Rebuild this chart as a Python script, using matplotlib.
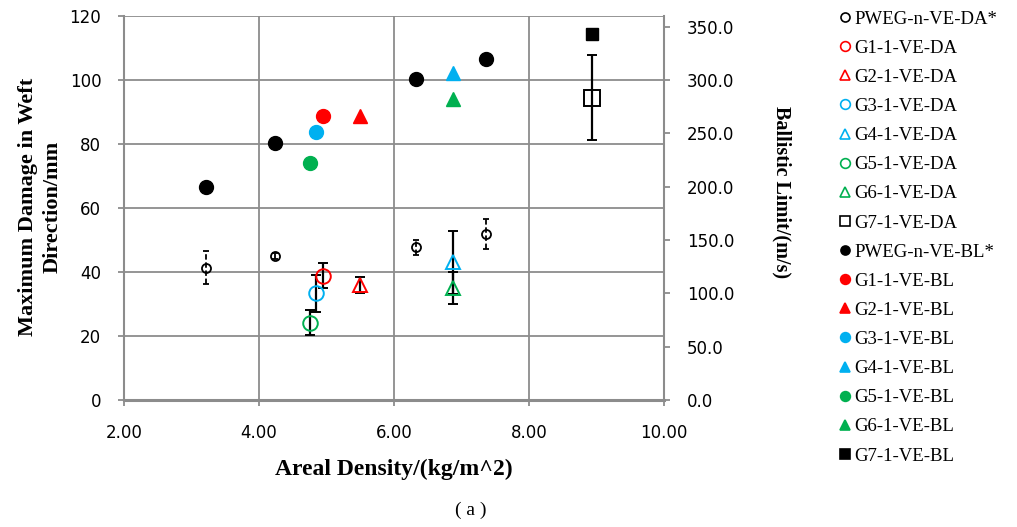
import matplotlib.pyplot as plt
from matplotlib.lines import Line2D
from matplotlib.ticker import FormatStrFormatter

# -------------------------
# Data
# -------------------------

# PWEG-n-VE series (4 points each)
pweg_x = [3.21, 4.23, 6.32, 7.37]
pweg_da = [41.3, 45.0, 47.7, 51.9]
pweg_da_err = [5.2, 1.0, 2.3, 4.6]
pweg_bl = [200.0, 241.0, 301.0, 320.0]

# G1..G7 single specimens
g_names = ["G1", "G2", "G3", "G4", "G5", "G6", "G7"]
g_x = [4.95, 5.49, 4.85, 6.88, 4.76, 6.88, 8.93]
g_da = [38.8, 35.9, 33.3, 43.0, 24.2, 34.9, 94.5]
g_da_err = [3.9, 2.6, 5.7, 9.8, 3.8, 5.0, 13.4]
g_bl = [266.5, 266.0, 251.0, 306.5, 222.0, 282.0, 343.0]

g_colors = ["#FF0000", "#FF0000", "#00B0F0", "#00B0F0", "#00B050", "#00B050", "black"]
g_markers = ["o", "^", "o", "^", "o", "^", "s"]

# -------------------------
# Figure
# -------------------------

fig = plt.figure(figsize=(10.17, 5.27), dpi=100)
ax = fig.add_axes([0.1219, 0.241, 0.531, 0.7287])
ax2 = ax.twinx()

grid_c = "#8c8c8c"
serif = "Liberation Serif"

# damage (left axis), open markers with error bars
eb = ax.errorbar(pweg_x, pweg_da, yerr=pweg_da_err, fmt="o", ms=6.5, mfc="none",
                 mec="black", mew=1.3, ecolor="black", elinewidth=1.3,
                 capsize=2.2, capthick=1.3, zorder=3)
eb[2][0].set_linestyle((0, (3, 1.5)))

for i in range(len(g_names)):
    ms = 12 if g_markers[i] == "s" else 10.5
    ax.errorbar([g_x[i]], [g_da[i]], yerr=[g_da_err[i]], fmt=g_markers[i], ms=ms,
                mfc="none", mec=g_colors[i], mew=1.4, ecolor="black",
                elinewidth=1.6, capsize=3.8, capthick=1.6, zorder=3)

# ballistic limit (right axis), filled markers
ax2.plot(pweg_x, pweg_bl, "o", ms=10, color="black", ls="none")
for i in range(len(g_names)):
    ms = 8.5 if g_markers[i] == "s" else 10
    ax2.plot([g_x[i]], [g_bl[i]], g_markers[i], ms=ms, color=g_colors[i], ls="none")

# -------------------------
# Axes styling
# -------------------------

ax.set_xlim(2, 10)
ax.set_ylim(0, 120)
ax2.set_ylim(0, 360)
ax.set_xticks([2, 4, 6, 8, 10])
ax.set_yticks(range(0, 121, 20))
ax2.set_yticks(range(0, 351, 50))
ax.xaxis.set_major_formatter(FormatStrFormatter("%.2f"))
ax2.yaxis.set_major_formatter(FormatStrFormatter("%.1f"))

ax.grid(True, color=grid_c, lw=1.3)
ax.set_axisbelow(True)

for a in (ax, ax2):
    a.spines["top"].set_visible(False)
ax2.spines["bottom"].set_visible(False)
ax2.spines["left"].set_visible(False)
ax.spines["right"].set_visible(False)
ax.spines["left"].set_color(grid_c)
ax.spines["left"].set_linewidth(1.5)
ax.spines["bottom"].set_color(grid_c)
ax.spines["bottom"].set_linewidth(2.2)
ax2.spines["right"].set_color(grid_c)
ax2.spines["right"].set_linewidth(1.5)

ax.tick_params(axis="y", length=4.3, color=grid_c, width=1.3, labelsize=12, pad=12)
ax.tick_params(axis="x", length=4, color=grid_c, width=1.3, labelsize=12, pad=13)
ax2.tick_params(axis="y", length=4.3, color=grid_c, width=1.3, labelsize=12, pad=12)

ax.set_ylabel("Maximum Damage in Weft\nDirection/mm", family=serif, weight="bold",
              size=16, linespacing=1.35)
ax.yaxis.set_label_coords(-0.113, 0.503)
ax2.set_ylabel("Ballistic Limit/(m/s)", rotation=270, va="center", family=serif,
               weight="bold", size=14.5)
ax2.yaxis.set_label_coords(1.2185, 0.542)
ax.set_xlabel("Areal Density/(kg/m^2)", family=serif, weight="bold", size=17)
ax.xaxis.set_label_coords(0.5, -0.154)

fig.text(471 / 1017, 1 - 510 / 527, "( a )", family=serif, size=14, ha="center", va="center")

# -------------------------
# Legend
# -------------------------

proxies = []
labels = []
for kind in ["DA", "BL"]:
    face = "none" if kind == "DA" else "black"
    proxies.append(Line2D([], [], ls="none", marker="o", ms=6.5, mfc=face,
                          mec="black", mew=1.2))
    labels.append("PWEG-n-VE-" + kind + "*")
    for i in range(len(g_names)):
        face = "none" if kind == "DA" else g_colors[i]
        proxies.append(Line2D([], [], ls="none", marker=g_markers[i], ms=7,
                              mfc=face, mec=g_colors[i], mew=1.2))
        labels.append(g_names[i] + "-1-VE-" + kind)

fig.legend(proxies, labels, loc="upper left", bbox_to_anchor=(0.809, 1.012),
           frameon=False, handlelength=0.6, handletextpad=0.2, labelspacing=0.64,
           prop={"family": serif, "size": 13.5})

plt.savefig("out.png")
